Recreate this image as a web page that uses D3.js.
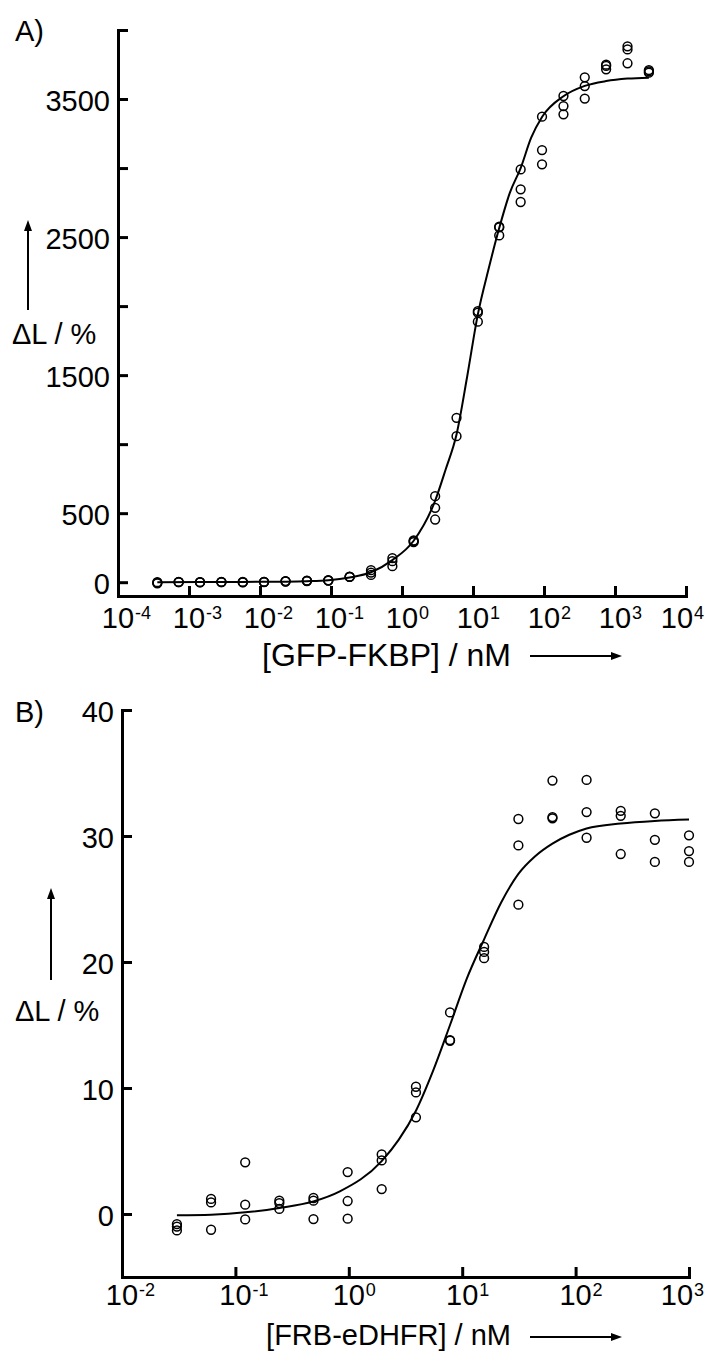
<!DOCTYPE html>
<html>
<head>
<meta charset="utf-8">
<script src="https://cdn.jsdelivr.net/npm/d3@7"></script>
<style>
  body { margin: 0; background: #fff; }
  svg text { font-family: "Liberation Sans", Arial, sans-serif; fill: #000; }
</style>
</head>
<body>
<svg id="chart" width="708" height="1351"></svg>
<script>
// ---- DATA: panel A (GFP-FKBP) ----
var concA = [0.000358, 0.000715, 0.00143, 0.00286, 0.00572, 0.0114, 0.0229, 0.0458, 0.0916, 0.183, 0.366, 0.732,
             1.46, 2.93, 5.86, 11.7, 23.4, 46.9, 93.8, 188, 375, 750, 1500, 3000];
var respA1 = [-8, 2, -2, 1, -1, 2, 5, 8, 12, 39, 53, 116, 290, 454, 1058, 1887, 2512, 2754, 3027, 3389, 3503, 3715, 3759, 3691];
var respA2 = [0, 0, 0, 2, 0, 3, 8, 12, 14, 40, 70, 152, 302, 539, 1191, 1964, 2575, 2846, 3130, 3449, 3594, 3740, 3859, 3700];
var respA3 = [-4, 1, 1, 1, 2, 1, 6, 10, 13, 38, 87, 174, 298, 623, null, 1952, 2570, 2990, 3372, 3522, 3657, 3749, 3882, 3710];
// fitted curve
var fitConcA = [0.000358, 0.00143, 0.00572, 0.0229, 0.0458, 0.0916, 0.183, 0.366, 0.732, 1.46, 2.93, 4.14, 5.86, 8.28,
                11.7, 16.6, 23.4, 33, 46.9, 66, 93.8, 188, 375, 750, 1500, 3000];
var fitRespA = [0, 1, 2, 4, 7, 14, 34, 72, 160, 300, 590, 820, 1070, 1490, 1940, 2270, 2565, 2820, 3000, 3220, 3370,
                3520, 3595, 3630, 3648, 3655];
var yTicksA = [0, 500, 1000, 1500, 2000, 2500, 3000, 3500, 4000];
var yTickLabelsA = ["0", "500", "", "1500", "", "2500", "", "3500", ""];
var xExpA = [-4, -3, -2, -1, 0, 1, 2, 3, 4];

// ---- DATA: panel B (FRB-eDHFR) ----
var concB = [0.0305, 0.061, 0.122, 0.244, 0.488, 0.977, 1.95, 3.91, 7.81, 15.6, 31.3, 62.5, 125, 250, 500, 1000];
var respB1 = [-0.8, 1.2, 4.1, 1.06, 1.27, 3.33, 4.73, 10.1, 16.0, 21.2, 31.35, 34.4, 34.45, 32.0, 31.8, 30.05];
var respB2 = [-1.0, 0.92, 0.74, 0.87, 1.06, 1.03, 4.25, 9.65, 13.8, 20.8, 29.25, 31.5, 31.9, 31.6, 29.7, 28.8];
var respB3 = [-1.3, -1.25, -0.43, 0.4, -0.4, -0.37, 1.98, 7.67, 13.75, 20.3, 24.55, 31.4, 29.86, 28.57, 27.94, 27.94];
var fitConcB = [0.0305, 0.061, 0.122, 0.244, 0.488, 0.834, 1.95, 2.76, 3.91, 5.5, 7.81, 11, 15.6, 22, 31.3, 44, 62.5,
                88, 125, 250, 500, 1000];
var fitRespB = [-0.1, -0.05, 0.13, 0.48, 1.0, 1.8, 4.2, 5.9, 8.2, 11.3, 15.0, 18.7, 21.8, 24.7, 27.0, 28.4, 29.4,
                30.1, 30.6, 31.0, 31.2, 31.3];
var yTicksB = [0, 10, 20, 30, 40];
var yTickLabelsB = ["0", "10", "20", "30", "40"];
var xExpB = [-2, -1, 0, 1, 2, 3];

var svg = d3.select("#chart");

var drawPanel = function(p) {
  var x = d3.scaleLog().domain(p.xDomain).range(p.xRange);
  var y = d3.scaleLinear().domain(p.yDomain).range(p.yRange);
  var g = svg.append("g");

  // y axis, ticks pointing inwards
  var yAxis = g.append("g")
    .attr("transform", "translate(" + p.xRange[0] + ",0)")
    .call(d3.axisLeft(y).tickValues(p.yTicks).tickSize(-10).tickSizeOuter(0).tickPadding(8)
      .tickFormat(function(d, i) { return p.yLabels[i]; }));
  // x axis
  var xTicks = p.xExp.map(function(e) { return Math.pow(10, e); });
  var xAxis = g.append("g")
    .attr("transform", "translate(0," + p.yRange[0] + ")")
    .call(d3.axisBottom(x).tickValues(xTicks).tickSize(-10).tickSizeOuter(0).tickFormat(""));

  [yAxis, xAxis].forEach(function(a) {
    a.select(".domain").attr("stroke-width", 3).attr("stroke-linecap", "square");
    a.selectAll(".tick line").attr("stroke-width", 3);
  });
  yAxis.selectAll(".tick text").attr("font-size", 29).attr("dy", "0.38em")
    .style("font-family", "Liberation Sans, Arial, sans-serif");

  // power-of-ten labels (last one pulled in so it stays on the page)
  p.xExp.forEach(function(e) {
    var tx = Math.min(x(Math.pow(10, e)), 677);
    g.append("text").attr("x", tx).attr("y", p.xLabelY).attr("text-anchor", "middle")
      .attr("font-size", 29).text("10");
    g.append("text").attr("x", tx + 17).attr("y", p.xLabelY - 9).attr("font-size", 18).text(String(e));
  });

  // fitted curve
  var line = d3.line()
    .x(function(d) { return x(d[0]); })
    .y(function(d) { return y(d[1]); })
    .curve(d3.curveMonotoneX);
  g.append("path")
    .datum(p.fitConc.map(function(c, i) { return [c, p.fitResp[i]]; }))
    .attr("d", line).attr("fill", "none").attr("stroke", "#000").attr("stroke-width", 2);

  // data points
  var pts = [];
  p.reps.forEach(function(rep) {
    rep.forEach(function(v, i) { if (v !== null) pts.push({c: p.conc[i], v: v}); });
  });
  g.selectAll("circle.pt").data(pts).enter().append("circle")
    .attr("class", "pt")
    .attr("cx", function(d) { return x(d.c); })
    .attr("cy", function(d) { return y(d.v); })
    .attr("r", 4.4)
    .attr("fill", "none").attr("stroke", "#000").attr("stroke-width", 1.5);

  // panel letter
  g.append("text").attr("x", 15).attr("y", p.letterY).attr("font-size", 29).text(p.letter);
  // y title + arrow
  g.append("text").attr("x", p.yTitleX).attr("y", p.yTitleY).attr("font-size", 29).text("\u0394L / %");
  g.append("line").attr("x1", p.yArrowX).attr("x2", p.yArrowX).attr("y1", p.yArrow[0]).attr("y2", p.yArrow[1] + 8)
    .attr("stroke", "#000").attr("stroke-width", 2);
  g.append("path").attr("d", "M" + (p.yArrowX - 4) + "," + (p.yArrow[1] + 11) + "L" + p.yArrowX + "," + p.yArrow[1] +
    "L" + (p.yArrowX + 4) + "," + (p.yArrow[1] + 11) + "Z").attr("fill", "#000");
  // x title + arrow
  g.append("text").attr("x", 511).attr("y", p.xTitleY).attr("text-anchor", "end")
    .attr("font-size", p.xTitleSize).text(p.xTitle);
  g.append("line").attr("x1", 530).attr("x2", 614).attr("y1", p.xArrowY).attr("y2", p.xArrowY)
    .attr("stroke", "#000").attr("stroke-width", 2);
  g.append("path").attr("d", "M611," + (p.xArrowY - 4) + "L622," + p.xArrowY + "L611," + (p.xArrowY + 4) + "Z")
    .attr("fill", "#000");
};

drawPanel({
  xDomain: [1e-4, 1e4], xRange: [118, 686], yDomain: [-100, 4000], yRange: [596, 30],
  yTicks: yTicksA, yLabels: yTickLabelsA, xExp: xExpA, xLabelY: 628,
  conc: concA, reps: [respA1, respA2, respA3], fitConc: fitConcA, fitResp: fitRespA,
  letter: "A)", letterY: 41, yTitleX: 12, yTitleY: 344, yArrowX: 28, yArrow: [310, 220],
  xTitle: "[GFP-FKBP] / nM", xTitleSize: 32, xTitleY: 666, xArrowY: 656
});

drawPanel({
  xDomain: [1e-2, 1e3], xRange: [122, 689], yDomain: [-5, 40], yRange: [1277, 710],
  yTicks: yTicksB, yLabels: yTickLabelsB, xExp: xExpB, xLabelY: 1305,
  conc: concB, reps: [respB1, respB2, respB3], fitConc: fitConcB, fitResp: fitRespB,
  letter: "B)", letterY: 722, yTitleX: 15, yTitleY: 1021, yArrowX: 51, yArrow: [980, 888],
  xTitle: "[FRB-eDHFR] / nM", xTitleSize: 29, xTitleY: 1345, xArrowY: 1337
});
</script>
</body>
</html>
